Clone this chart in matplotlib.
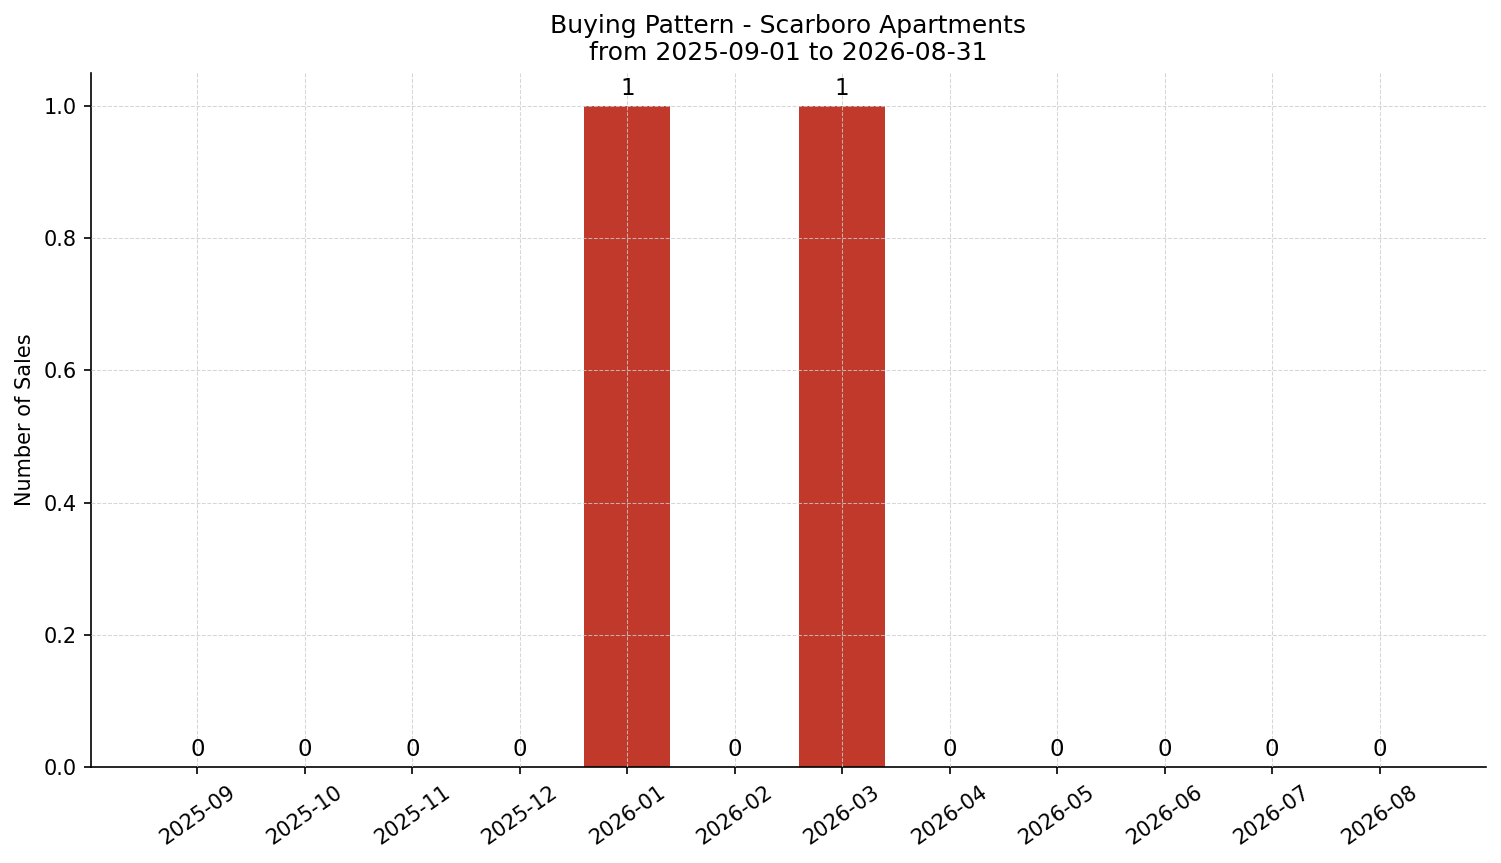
import matplotlib
matplotlib.use("Agg")
import matplotlib.pyplot as plt
import numpy as np

months = ["2025-09", "2025-10", "2025-11", "2025-12", "2026-01", "2026-02",
          "2026-03", "2026-04", "2026-05", "2026-06", "2026-07", "2026-08"]
sales = [0, 0, 0, 0, 1, 0, 1, 0, 0, 0, 0, 0]

fig = plt.figure(figsize=(1501 / 150, 863 / 150), dpi=150)
ax = fig.add_axes([91 / 1501, 1 - 767 / 863, (1486 - 91) / 1501, (767 - 73) / 863])

x = np.arange(len(months))
bars = ax.bar(x, sales, width=0.8, color="#c0392b", zorder=2)
ax.bar_label(bars, labels=[str(v) for v in sales], padding=3, fontsize=11)

ax.set_xticks(x)
ax.set_xticklabels(months, rotation=35, fontsize=10)
ax.tick_params(axis="y", labelsize=10)
ax.set_ylabel("Number of Sales", fontsize=10)
ax.set_title("Buying Pattern - Scarboro Apartments\nfrom 2025-09-01 to 2026-08-31", fontsize=12)
ax.grid(True, linestyle="--", linewidth=0.5, color="#cccccc", alpha=0.8, zorder=0)
ax.set_axisbelow(False)
ax.spines["top"].set_visible(False)
ax.spines["right"].set_visible(False)

fig.savefig("out.png", dpi=150)
